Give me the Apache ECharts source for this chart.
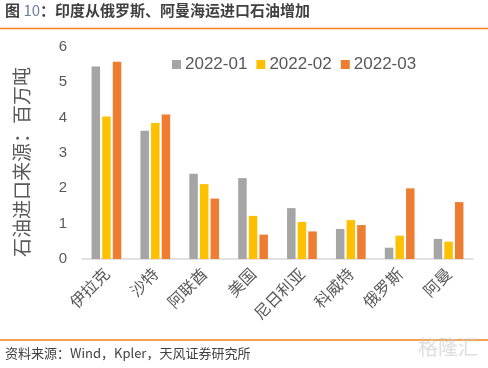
<!DOCTYPE html>
<html>
<head>
<meta charset="utf-8">
<script src="https://cdn.jsdelivr.net/npm/echarts@6/dist/echarts.min.js"></script>
<style>html,body{margin:0;padding:0;background:#fff;}#c{width:488px;height:368px;}</style>
</head>
<body>
<div id="c"></div>
<script>
var categories = ['伊拉克','沙特','阿联酋','美国','尼日利亚','科威特','俄罗斯','阿曼'];
var s2022_01 = [5.45, 3.63, 2.41, 2.29, 1.44, 0.85, 0.32, 0.57];
var s2022_02 = [4.03, 3.85, 2.12, 1.22, 1.05, 1.10, 0.66, 0.49];
var s2022_03 = [5.58, 4.09, 1.71, 0.69, 0.78, 0.96, 2.00, 1.61];
var seriesNames = ['2022-01','2022-02','2022-03'];
var yTicks = [0,1,2,3,4,5,6];

var FONT = '"Noto Sans CJK SC", "Liberation Sans", sans-serif';
var chart = echarts.init(document.getElementById('c'), null, {renderer:'canvas'});
var colors = ['#A5A5A5','#FFC000','#ED7D31'];
var data = [s2022_01, s2022_02, s2022_03];
chart.setOption({
  animation: false,
  textStyle: {fontFamily: FONT},
  color: colors,
  grid: {left: 82, right: 15, top: 47, bottom: 109, containLabel: false},
  legend: {
    data: seriesNames,
    top: 51, left: 167,
    itemWidth: 9, itemHeight: 9, itemGap: 9,
    icon: 'rect',
    textStyle: {fontSize: 17, color: '#595959', fontFamily: '"Liberation Sans", Arial, sans-serif', padding:[0,0,0,-1]}
  },
  xAxis: {
    type: 'category',
    data: categories,
    axisLine: {lineStyle: {color: '#D9D9D9', width: 1.5}},
    axisTick: {show: false},
    axisLabel: {rotate: 45, fontSize: 16, color: '#595959', margin: 12, interval: 0, fontFamily: FONT}
  },
  yAxis: {
    type: 'value',
    min: yTicks[0], max: yTicks[yTicks.length-1], interval: 1,
    axisLine: {show: false},
    axisTick: {show: false},
    splitLine: {show: false},
    axisLabel: {fontSize: 15, color: '#595959', margin: 15, fontFamily: '"Liberation Sans", Arial, sans-serif'}
  },
  series: seriesNames.map(function(n, i){
    return {name: n, type: 'bar', data: data[i], barWidth: 8.5, barGap: '25%'};
  }),
  graphic: [
    {type: 'text', left: 5, top: 3, style: {
      rich: {
        a: {fontSize: 15, fontWeight: 'bold', fill: '#404040', fontFamily: FONT},
        b: {fontSize: 15, fill: '#6F7F9F', fontFamily: FONT}
      },
      text: '{a|图 }{b|10}{a|：印度从俄罗斯、阿曼海运进口石油增加}'
    }},
    {type: 'text', x: 22, y: 162, rotation: Math.PI / 2,
      style: {text: '石油进口来源：百万吨', fontSize: 19, fill: '#595959', fontFamily: FONT, align: 'center', verticalAlign: 'middle'}},
    {type: 'line', shape: {x1: 0, y1: 28.5, x2: 488, y2: 28.5}, style: {stroke: '#F08519', lineWidth: 1.5}},
    {type: 'line', shape: {x1: 0, y1: 340, x2: 488, y2: 340}, style: {stroke: '#F08519', lineWidth: 1.5}},
    {type: 'text', left: 5, top: 347, style: {text: '资料来源：Wind，Kpler，天风证券研究所', fontSize: 13, fill: '#404040', fontFamily: FONT}},
    {type: 'text', left: 418, top: 337, style: {text: '格隆汇', fontSize: 20, fill: 'rgba(200,200,200,0.6)', fontFamily: FONT}}
  ]
});
</script>
</body>
</html>
